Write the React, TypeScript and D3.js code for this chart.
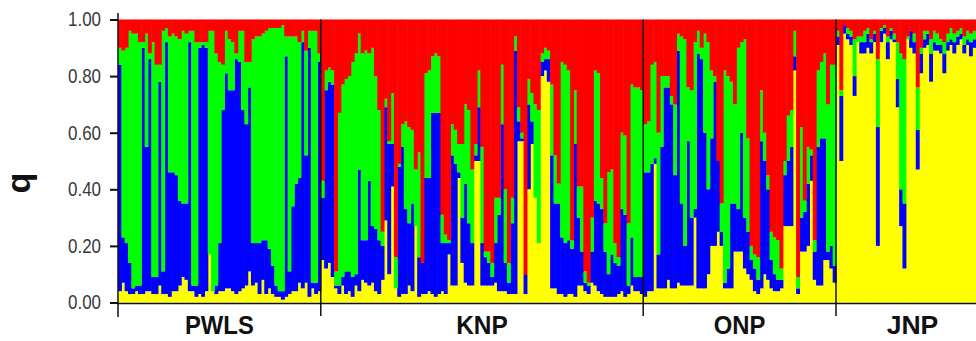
import React, { useEffect, useRef } from 'react';
import * as d3 from 'd3';

const populations = ['PWLS', 'KNP', 'ONP', 'JNP'];
const clusters = ['yellow', 'blue', 'green', 'red'];
const clusterColors = ['#ffff00', '#0000ff', '#00ff00', '#ff0000'];
const yTicks = [0, 0.2, 0.4, 0.6, 0.8, 1.0];

// cumulative q per individual, read bottom up: [yellow, yellow+blue, yellow+blue+green]; red is the rest
const pwls = [
  [.04, .84, .90], [.07, .23, .89], [.04, .21, .90], [.03, .14, .96], [.03, .05, .95], [.04, .06, .95],
  [.03, .06, .92], [.03, .90, .92], [.04, .55, .95], [.04, .86, .88], [.03, .09, .92], [.03, .09, .84],
  [.06, .78, .84], [.03, .11, .96], [.03, .92, .97], [.02, .46, .94], [.04, .46, .95], [.04, .45, .94],
  [.06, .36, .93], [.09, .35, .96], [.08, .35, .95], [.04, .92, .96], [.04, .06, .96], [.02, .06, .92],
  [.03, .90, .92], [.02, .91, .92], [.04, .90, .92], [.17, .17, .96], [.04, .04, .96], [.03, .06, .88],
  [.04, .21, .85], [.04, .68, .84], [.05, .81, .96], [.05, .75, .93], [.04, .75, .92], [.03, .86, .88],
  [.04, .85, .96], [.05, .68, .96], [.06, .63, .85], [.11, .76, .85], [.06, .21, .93], [.07, .21, .94],
  [.03, .21, .94], [.08, .22, .95], [.03, .22, .96], [.05, .19, .97], [.03, .13, .97], [.02, .06, .97],
  [.02, .04, .97], [.01, .04, .98], [.02, .87, .94], [.03, .11, .94], [.04, .34, .94], [.04, .42, .94],
  [.07, .44, .92], [.05, .92, .96], [.07, .52, .89], [.02, .90, .96], [.05, .07, .96], [.03, .07, .96],
  [.04, .85, .88]
];

const knp = [
  [.15, .37, .43], [.12, .75, .82], [.14, .78, .83], [.09, .77, .82], [.05, .06, .11], [.03, .06, .67],
  [.06, .09, .77], [.03, .11, .79], [.04, .11, .80], [.02, .09, .85], [.06, .10, .88], [.04, .47, .95],
  [.08, .22, .88], [.07, .22, .89], [.06, .43, .88], [.07, .27, .90], [.04, .26, .80], [.03, .22, .68],
  [.08, .20, .25], [.29, .69, .72], [.10, .56, .57], [.41, .56, .74], [.05, .05, .16], [.02, .48, .49],
  [.03, .55, .63], [.03, .33, .64], [.06, .28, .62], [.04, .35, .61], [.27, .27, .47], [.02, .16, .53],
  [.03, .14, .14], [.03, .44, .81], [.04, .44, .82], [.03, .67, .87], [.02, .67, .88], [.03, .67, .87],
  [.04, .21, .31], [.03, .21, .24], [.17, .21, .22], [.06, .52, .63], [.06, .49, .61], [.44, .46, .56],
  [.14, .30, .56], [.07, .42, .70], [.06, .28, .68], [.06, .21, .47], [.50, .52, .56], [.50, .69, .82],
  [.06, .21, .55], [.06, .16, .18], [.06, .14, .18], [.06, .09, .14], [.07, .21, .37], [.04, .31, .37],
  [.04, .63, .84], [.04, .14, .40], [.03, .07, .14], [.03, .28, .37], [.03, .89, .94], [.57, .64, .69],
  [.57, .58, .60], [.03, .10, .10], [.40, .70, .79], [.56, .64, .74], [.37, .37, .70], [.21, .21, .68],
  [.80, .85, .88], [.82, .86, .90], [.78, .86, .89], [.05, .52, .77], [.05, .35, .52], [.03, .35, .42],
  [.03, .23, .85], [.02, .21, .84], [.03, .22, .82], [.03, .19, .22], [.02, .56, .75], [.06, .30, .41],
  [.06, .18, .41], [.04, .07, .11], [.03, .06, .07], [.07, .18, .30], [.06, .36, .82], [.04, .35, .81],
  [.03, .33, .44], [.02, .18, .28], [.02, .10, .46], [.02, .17, .47], [.02, .14, .21], [.03, .13, .16],
  [.04, .33, .60], [.02, .31, .59], [.03, .06, .28], [.06, .23, .77], [.04, .09, .76], [.04, .09, .76],
  [.03, .09, .75]
];

const onp = [
  [.02, .46, .63], [.04, .46, .64], [.04, .49, .84], [.49, .51, .85], [.05, .17, .60], [.05, .55, .80],
  [.05, .76, .80], [.08, .76, .80], [.05, .70, .73], [.05, .45, .70], [.07, .89, .95], [.06, .35, .94],
  [.06, .20, .93], [.06, .57, .76], [.06, .30, .75], [.30, .33, .92], [.05, .88, .96], [.05, .86, .90],
  [.05, .60, .95], [.10, .40, .92], [.20, .58, .82], [.20, .78, .80], [.25, .50, .50], [.20, .25, .35],
  [.05, .07, .82], [.05, .12, .80], [.05, .35, .78], [.18, .35, .70], [.18, .33, .90], [.18, .60, .92],
  [.12, .30, .93], [.10, .25, .58], [.08, .15, .20], [.04, .12, .17], [.03, .08, .16], [.05, .57, .75],
  [.10, .50, .60], [.08, .40, .45], [.05, .15, .25], [.04, .10, .23], [.04, .08, .22], [.05, .08, .12],
  [.27, .45, .50], [.27, .50, .66], [.27, .55, .68], [.82, .87, .96], [.03, .05, .09], [.18, .30, .62],
  [.18, .32, .36], [.20, .42, .55], [.43, .52, .54], [.08, .18, .22], [.06, .55, .82], [.06, .58, .85],
  [.15, .58, .88], [.15, .18, .70], [.12, .20, .84], [.07, .13, .84]
];

const jnp = [
  [.91, .94, .96], [.50, .73, .75], [.95, .98, .98], [.93, .95, .97], [.91, .94, .96], [.73, .80, .93],
  [.92, .92, .94], [.88, .92, .94], [.88, .92, .96], [.90, .95, .97], [.88, .92, .93], [.92, .95, .96],
  [.20, .62, .86], [.92, .96, .97], [.95, .97, .98], [.86, .92, .94], [.93, .96, .97], [.92, .93, .95],
  [.69, .79, .92], [.27, .40, .88], [.12, .35, .86], [.93, .93, .94], [.90, .96, .96], [.88, .92, .95],
  [.47, .61, .76], [.81, .88, .90], [.90, .93, .96], [.91, .95, .96], [.78, .88, .93], [.89, .92, .96],
  [.89, .91, .95], [.88, .91, .93], [.81, .88, .92], [.89, .92, .95], [.91, .93, .97], [.88, .92, .95],
  [.91, .94, .96], [.93, .95, .97], [.88, .91, .94], [.91, .93, .96], [.87, .92, .95], [.90, .93, .96],
  [.90, .94, .96], [.88, .92, .95], [.92, .95, .97], [.89, .93, .96]
];

const App = () => {
  const ref = useRef<SVGSVGElement>(null);

  useEffect(() => {
    const width = 976;
    const height = 341;
    const left = 118;
    const top = 19.5;
    const bottom = 302.5;

    const svg = d3.select(ref.current);
    svg.selectAll('*').remove();

    const groups = [pwls, knp, onp, jnp];
    const rows: any[] = [];
    groups.forEach((g, gi) => {
      g.forEach((c, i) => {
        rows.push({
          id: populations[gi] + i,
          pop: populations[gi],
          yellow: c[0],
          blue: c[1] - c[0],
          green: c[2] - c[1],
          red: 1 - c[2]
        });
      });
    });

    // bar width taken from the first three populations spanning 118..836
    const barW = (836 - left) / (pwls.length + knp.length + onp.length);
    const xScale = d3.scaleBand()
      .domain(rows.map(d => d.id))
      .range([left, left + rows.length * barW])
      .padding(0);
    const yScale = d3.scaleLinear().domain([0, 1]).range([bottom, top]);

    const stack = d3.stack().keys(clusters);
    const series = stack(rows);

    const barGroup = svg.append('g').attr('class', 'bars');
    barGroup.selectAll('g')
      .data(series)
      .enter()
      .append('g')
      .attr('fill', (d, i) => clusterColors[i])
      .selectAll('rect')
      .data(d => d)
      .enter()
      .append('rect')
      .attr('x', d => xScale((d as any).data.id))
      .attr('width', xScale.bandwidth() + 0.6)
      .attr('y', d => yScale(d[1]))
      .attr('height', d => Math.max(0, yScale(d[0]) - yScale(d[1])));

    // y axis
    const yAxis = d3.axisLeft(yScale)
      .tickValues(yTicks)
      .tickFormat(d3.format('.2f'))
      .tickSize(8)
      .tickSizeOuter(0)
      .tickPadding(9);
    const gY = svg.append('g')
      .attr('class', 'yAxis')
      .attr('transform', `translate(${left}, 0)`)
      .call(yAxis);
    gY.select('.domain').remove();
    gY.selectAll('line').attr('stroke', '#111').attr('stroke-width', 2);
    gY.selectAll('text')
      .attr('fill', '#3a3a3a')
      .attr('font-family', 'Liberation Sans, Arial, sans-serif')
      .attr('font-size', 20)
      .attr('textLength', 33)
      .attr('lengthAdjust', 'spacingAndGlyphs');

    svg.append('line')
      .attr('x1', left).attr('x2', left)
      .attr('y1', 13).attr('y2', 317)
      .attr('stroke', '#111').attr('stroke-width', 1.5);

    svg.append('line')
      .attr('x1', left).attr('x2', width)
      .attr('y1', bottom + 1).attr('y2', bottom + 1)
      .attr('stroke', '#111').attr('stroke-width', 1.5);

    // population separators and labels
    const popGroup = svg.append('g').attr('class', 'pops');
    populations.forEach((p, gi) => {
      const first = xScale(p + 0) as number;
      const last = (xScale(p + (groups[gi].length - 1)) as number) + xScale.bandwidth();
      if (gi > 0) {
        popGroup.append('line')
          .attr('x1', first).attr('x2', first)
          .attr('y1', top).attr('y2', 316)
          .attr('stroke', '#111').attr('stroke-width', 1.5);
      }
      popGroup.append('text')
        .attr('x', (first + last) / 2)
        .attr('y', 334)
        .attr('text-anchor', 'middle')
        .attr('font-family', 'Liberation Sans, Arial, sans-serif')
        .attr('font-weight', 'bold')
        .attr('font-size', 26)
        .attr('textLength', p.length * 17.2)
        .attr('lengthAdjust', 'spacingAndGlyphs')
        .attr('fill', '#111')
        .text(p);
    });

    svg.append('text')
      .attr('transform', 'translate(30, 183) rotate(-90)')
      .attr('text-anchor', 'middle')
      .attr('font-family', 'Liberation Sans, Arial, sans-serif')
      .attr('font-weight', 'bold')
      .attr('font-size', 34)
      .attr('fill', '#111')
      .text('q');
  }, []);

  return (
    <svg
      ref={ref}
      width={976}
      height={341}
      style={{ position: 'absolute', left: 0, top: 0, background: '#fff' }}
    />
  );
};

export default App;
